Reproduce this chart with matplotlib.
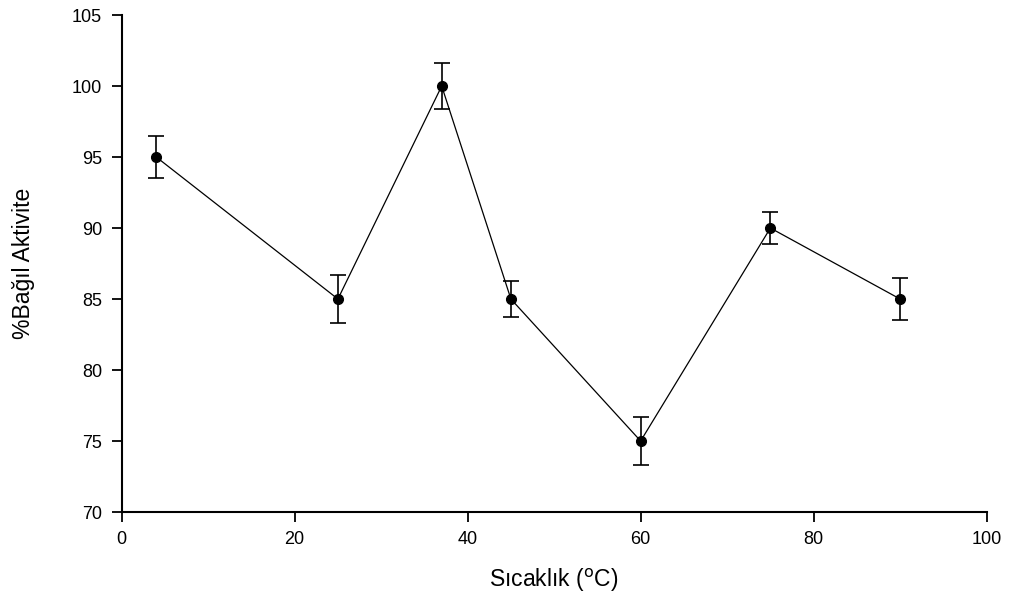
import matplotlib
matplotlib.use("Agg")
import matplotlib.pyplot as plt

plt.rcParams['font.family'] = ['Liberation Sans', 'DejaVu Sans']

temperature = [4, 25, 37, 45, 60, 75, 90]
activity = [95, 85, 100, 85, 75, 90, 85]
error = [1.5, 1.7, 1.6, 1.3, 1.7, 1.1, 1.5]

fig = plt.figure(figsize=(10.14, 6.02), dpi=100)
ax = fig.add_axes([0.120, 0.1495, 0.853, 0.8255])

ax.errorbar(temperature, activity, yerr=error, color="black", marker="o",
            markersize=7, linewidth=0.9, elinewidth=1.2, capsize=6, capthick=1.2)

ax.set_xlim(0, 100)
ax.set_ylim(70, 105)
ax.set_xticks(range(0, 101, 20))
ax.set_yticks(range(70, 106, 5))
ax.spines['top'].set_visible(False)
ax.spines['right'].set_visible(False)
ax.spines['left'].set_linewidth(1.5)
ax.spines['bottom'].set_linewidth(1.5)
ax.tick_params(direction='out', length=7, width=1.3, labelsize=13, pad=7)

ax.set_xlabel("Sıcaklık ($^{\\mathrm{o}}$C)", fontsize=16.5)
ax.set_ylabel("%Bağıl Aktivite", fontsize=16.5)
ax.xaxis.set_label_coords(0.5, -0.11)
ax.yaxis.set_label_coords(-0.1, 0.5)

fig.savefig("out.png", dpi=100)
